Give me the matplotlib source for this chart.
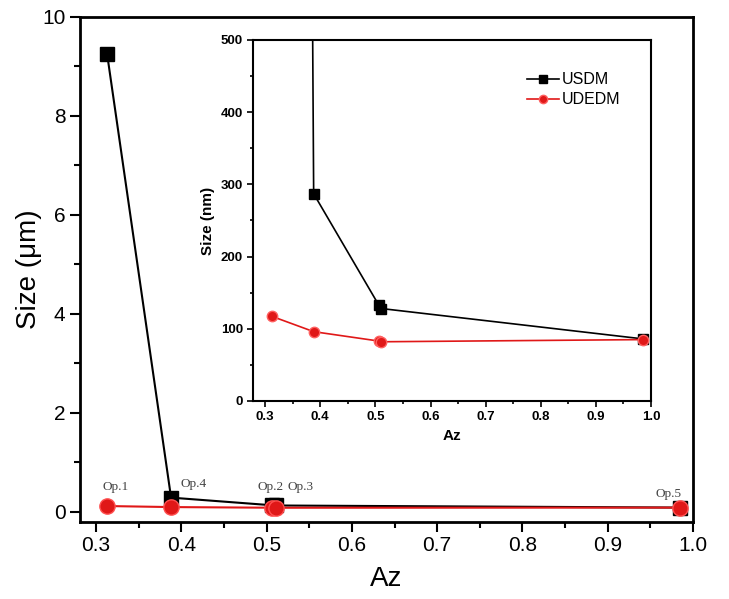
import numpy as np
import matplotlib.pyplot as plt
from matplotlib.ticker import MultipleLocator

plt.rcParams['font.family'] = ['Liberation Sans', 'DejaVu Sans']

# Abrasive-zone ratio for each operating point
az = [0.313, 0.388, 0.506, 0.511, 0.985]
op_names = ['Op.1', 'Op.4', 'Op.2', 'Op.3', 'Op.5']

# particle size in nm
usdm_nm = [9250, 287, 133, 128, 86]
udedm_nm = [117, 96, 83, 82, 85]

usdm_um = np.array(usdm_nm) / 1000.0
udedm_um = np.array(udedm_nm) / 1000.0

RED = '#e01818'

fig = plt.figure(figsize=(7.29, 5.99), dpi=100)

# main plot (micrometres)
ax = fig.add_axes([0.1097, 0.129, 0.841, 0.843])
ax.plot(az, usdm_um, color='black', lw=1.5, marker='s', ms=10, zorder=3)
ax.plot(az, udedm_um, color=RED, lw=1.5, marker='o', ms=11,
        mec='#ff5050', zorder=4)
ax.set_xlim(0.2812, 1.0)
ax.set_ylim(-0.2, 10)
ax.xaxis.set_major_locator(MultipleLocator(0.1))
ax.xaxis.set_minor_locator(MultipleLocator(0.05))
ax.yaxis.set_major_locator(MultipleLocator(2))
ax.yaxis.set_minor_locator(MultipleLocator(1))
ax.tick_params(which='both', direction='out', width=1.5, labelsize=15)
ax.tick_params(which='major', length=7)
ax.tick_params(which='minor', length=4)
ax.xaxis.set_major_formatter(plt.FuncFormatter(lambda v, p: f'{v:.1f}'))
for s in ax.spines.values():
    s.set_linewidth(2)
ax.set_xlabel('Az', fontsize=20, labelpad=8)
ax.set_ylabel('Size (\u03bcm)', fontsize=20, labelpad=0)

# operation labels above the points
offsets = [(6.5, 14), (16, 16.5), (-0.7, 15), (17.5, 15), (-8.4, 10)]
for x, y, name, off in zip(az, udedm_um, op_names, offsets):
    ax.annotate(name, (x, y), xytext=off, textcoords='offset points',
                ha='center', va='center', fontsize=9.5, color='#444444',
                family='Liberation Serif')

# inset (nanometres)
ins = fig.add_axes([0.3477, 0.3306, 0.5453, 0.6027])
ins.plot(az, usdm_nm, color='black', lw=1.2, marker='s', ms=6.5,
         label='USDM', zorder=3)
ins.plot(az, udedm_nm, color=RED, lw=1.2, marker='o', ms=7.5,
         mec='#ff6060', label='UDEDM', zorder=4)
ins.set_xlim(0.2788, 1.0)
ins.set_ylim(0, 500)
ins.xaxis.set_major_locator(MultipleLocator(0.1))
ins.xaxis.set_minor_locator(MultipleLocator(0.05))
ins.yaxis.set_major_locator(MultipleLocator(100))
ins.yaxis.set_minor_locator(MultipleLocator(50))
ins.xaxis.set_major_formatter(plt.FuncFormatter(lambda v, p: f'{v:.1f}'))
ins.tick_params(which='both', direction='out', width=1.2, labelsize=9.5)
ins.tick_params(which='major', length=4)
ins.tick_params(which='minor', length=2.5)
for lab in ins.get_xticklabels() + ins.get_yticklabels():
    lab.set_fontweight('bold')
for s in ins.spines.values():
    s.set_linewidth(1.5)
ins.set_xlabel('Az', fontsize=11, fontweight='bold', labelpad=4)
ins.set_ylabel('Size (nm)', fontsize=11, fontweight='bold', labelpad=4)
ins.legend(loc='upper right', bbox_to_anchor=(0.96, 0.95), frameon=False,
           fontsize=11.5, handlelength=2.0, handletextpad=0.2,
           labelspacing=0.3, markerscale=0.8)

fig.savefig('out.png', dpi=100)
